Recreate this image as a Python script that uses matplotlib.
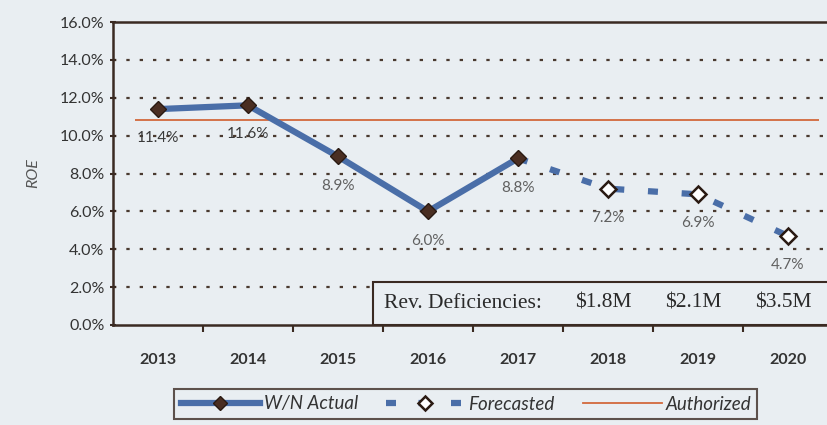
import matplotlib.pyplot as plt
from matplotlib.patches import Rectangle
from matplotlib.lines import Line2D

years = ["2013", "2014", "2015", "2016", "2017", "2018", "2019", "2020"]
actual = [11.4, 11.6, 8.9, 6.0, 8.8]
forecast = [8.8, 7.2, 6.9, 4.7]
authorized = 10.8
deficiencies = ["$1.8M", "$2.1M", "$3.5M"]

bg = "#e9eef2"
blue = "#4a6ea8"
dark = "#3a2a22"
grey = "#555555"

plt.rcParams["font.family"] = ["Lato", "DejaVu Sans"]

fig = plt.figure(figsize=(8.28, 4.25), dpi=100, facecolor=bg)
ax = fig.add_axes([113 / 828, 1 - 325 / 425, 720 / 828, 303 / 425])
ax.set_facecolor(bg)

xa = list(range(len(actual)))
xf = list(range(len(actual) - 1, len(years)))

ax.hlines(authorized, -0.25, 7.35, color="#d2683c", lw=1.3, zorder=2)
ax.plot(xa, actual, color=blue, lw=4.5, zorder=3, solid_capstyle="butt")
ax.plot(xa, actual, ls="none", marker="D", ms=8, mfc="#4a2e22", mec="#2a1a12", zorder=4)
ax.plot(xf, forecast, color=blue, lw=4.5, ls=(0, (1.6, 3.8)), zorder=3)
ax.plot(xf[1:], forecast[1:], ls="none", marker="D", ms=8, mfc="white", mec="#2a1a12", mew=1.8, zorder=4)

vals = actual + forecast[1:]
for i, v in enumerate(vals):
    col = "#3a3a3a" if i < 2 else "#606060"
    ax.annotate(f"{v:.1f}%", (i, v), xytext=(0, -21), textcoords="offset points",
                ha="center", va="center", fontsize=11, color=col, zorder=5)

ax.set_ylim(0, 16)
ax.set_xlim(-0.5, 7.5)
ax.set_yticks([0, 2, 4, 6, 8, 10, 12, 14, 16])
ax.set_yticklabels([f"{t:.1f}%" for t in range(0, 17, 2)], fontsize=11.5, color="#333333")
ax.set_xticks(range(len(years)))
ax.set_xticklabels(years, fontsize=11.5, fontweight="bold", color="#333333")
ax.set_xticks([i - 0.5 for i in range(1, 9)], minor=True)
ax.tick_params(axis="x", which="major", length=0, pad=20)
ax.tick_params(axis="x", which="minor", length=5, color=dark, width=1.5, direction="out")
ax.tick_params(axis="y", length=5, color=dark, width=1.5, direction="inout")
for y in range(2, 16, 2):
    ax.axhline(y, color="#4a3a30", lw=1.6, ls=(0, (1.5, 4.5)), zorder=1)
for s in ["left", "bottom", "top"]:
    ax.spines[s].set_color(dark)
    ax.spines[s].set_linewidth(1.8)
ax.spines["right"].set_visible(False)
ax.set_ylabel("ROE", fontsize=11.5, style="italic", color=grey, labelpad=14)

# revenue deficiency box
box = Rectangle((2.39, 0), 6, 2.27, facecolor=bg, edgecolor=dark, lw=1.5,
                zorder=6, clip_on=False)
ax.add_patch(box)
ax.text(2.51, 1.15, "Rev. Deficiencies:", family="Liberation Serif",
        fontsize=15.5, color="#2a2a2a", va="center", ha="left", zorder=7)
for i, d in enumerate(deficiencies):
    ax.text(5 + i - 0.05, 1.15, d, family="Liberation Serif", fontsize=15.5,
            color="#2a2a2a", ha="center", va="center", zorder=7)

# legend
handles = [
    Line2D([], [], color=blue, lw=4.5, marker="D", ms=7, mfc="#4a2e22", mec="#2a1a12"),
    Line2D([], [], color=blue, lw=4.5, ls=(0, (1.6, 3.6)), marker="D", ms=7, mfc="white", mec="#2a1a12", mew=1.8),
    Line2D([], [], color="#d2683c", lw=1.3),
]
leg = fig.legend(handles, ["W/N Actual", "Forecasted", "Authorized"], loc="center",
                 bbox_to_anchor=(466 / 828, 1 - 404 / 425), ncol=3, frameon=True,
                 fancybox=False, edgecolor=dark, facecolor=bg, handlelength=4.2,
                 columnspacing=1.5, handletextpad=0.2, borderpad=0.35,
                 prop={"style": "italic", "size": 13.5})
leg.get_frame().set_linewidth(1.5)
for t in leg.get_texts():
    t.set_color("#333333")

fig.savefig("out.png", dpi=100, facecolor=bg)
